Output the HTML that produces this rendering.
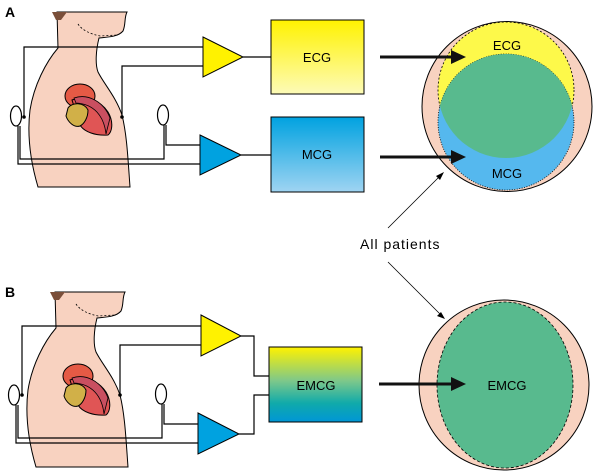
<!DOCTYPE html>
<html><head><meta charset="utf-8"><style>
html,body{margin:0;padding:0;background:#fff;}
svg{display:block;font-family:"Liberation Sans",sans-serif;}
</style></head><body>
<svg width="600" height="476" viewBox="0 0 600 476" xmlns="http://www.w3.org/2000/svg">
<defs>
<linearGradient id="gy" x1="0" y1="0" x2="0" y2="1"><stop offset="0" stop-color="#fff200"/><stop offset="1" stop-color="#fdfbb8"/></linearGradient>
<linearGradient id="gb" x1="0" y1="0" x2="0" y2="1"><stop offset="0" stop-color="#00a2e0"/><stop offset="1" stop-color="#9fd4f2"/></linearGradient>
<linearGradient id="ge" x1="0" y1="0" x2="0" y2="1"><stop offset="0" stop-color="#fff200"/><stop offset="0.45" stop-color="#7ec88a"/><stop offset="0.75" stop-color="#10aaaa"/><stop offset="1" stop-color="#0096d6"/></linearGradient>
<clipPath id="cy"><ellipse cx="506" cy="90" rx="68" ry="68"/></clipPath>
<g id="body">
<path d="M57,12 L58,48 C46,62 34,85 30,110 C27,135 30,160 38,187 L130,187 C128,160 127,135 122,115 C116,97 104,84 98,72 C95,64 96,50 99,38 C108,37 118,37 123,31 C126,24 124,18 127,12 Z" fill="#f8d2c0" stroke="#000" stroke-width="1"/>
<path d="M52,12 L67,12 L61,20 L56,20 Z" fill="#7a4f3a"/>
<path d="M78,24 C82,30 90,34 100,36 L118,35" fill="none" stroke="#000" stroke-width="0.8" stroke-dasharray="2,2"/>
<ellipse cx="80" cy="96" rx="15" ry="12" fill="#e55a45" stroke="#000" stroke-width="1"/>
<path d="M72,100 C85,95 100,100 108,112 C114,122 112,132 108,135 C96,136 84,132 80,125 Z" fill="#e05555" stroke="#000" stroke-width="1"/>
<path d="M74,98 C88,93 104,102 110,118 L106,134 C104,116 94,104 76,103 Z" fill="#c94f60" stroke="#000" stroke-width="0.8"/>
<path d="M68,108 C72,102 84,102 88,110 C88,118 84,124 80,126 C74,128 68,122 66,116 Z" fill="#d1b048" stroke="#000" stroke-width="1"/>
</g>
</defs>

<text x="5" y="17" font-size="14" font-weight="bold">A</text>
<use href="#body"/>
<g fill="none" stroke="#000" stroke-width="1.2">
<path d="M203,47 L24,47 L24,117"/>
<path d="M203,66 L122,66 L122,117"/>
<ellipse cx="16" cy="116" rx="5.5" ry="10" fill="#fff"/>
<ellipse cx="163" cy="115" rx="5.5" ry="10" fill="#fff"/>
<path d="M18,126 L18,164 L200,164"/>
<path d="M20,126 L20,159 L164,159 L164,125"/>
<path d="M166,125 L166,145 L200,145"/>
<path d="M243,57 L271,57"/>
<path d="M241,155 L271,155"/>
</g>
<circle cx="24" cy="117" r="1.8"/><circle cx="122" cy="117" r="1.8"/>
<polygon points="203,37 243,57 203,77" fill="#fff200" stroke="#000" stroke-width="1"/>
<polygon points="200,135 241,155 200,175" fill="#00a2e0" stroke="#000" stroke-width="1"/>
<rect x="271" y="20" width="93" height="74" fill="url(#gy)" stroke="#000" stroke-width="1"/>
<text x="317" y="62" font-size="13" text-anchor="middle">ECG</text>
<rect x="271" y="117" width="93" height="75" fill="url(#gb)" stroke="#000" stroke-width="1"/>
<text x="317" y="159" font-size="13" text-anchor="middle">MCG</text>

<circle cx="507" cy="106.5" r="85" fill="#f8d2c0" stroke="#000" stroke-width="1"/>
<ellipse cx="506" cy="90" rx="68" ry="68" fill="#fdf94a" stroke="#000" stroke-width="0.8" stroke-dasharray="2,2"/>
<ellipse cx="506" cy="122" rx="68" ry="68" fill="#55b8ee" stroke="#000" stroke-width="0.8" stroke-dasharray="1,1.5"/>
<ellipse cx="506" cy="122" rx="68" ry="68" fill="#58ba8e" clip-path="url(#cy)"/>
<text x="507" y="50" font-size="13" text-anchor="middle">ECG</text>
<text x="507" y="178" font-size="13" text-anchor="middle">MCG</text>
<path d="M380,57 L453,57" stroke="#111" stroke-width="3"/>
<polygon points="451,50 466,57 451,64" fill="#111"/>
<path d="M380,157 L453,157" stroke="#111" stroke-width="3"/>
<polygon points="451,150 466,157 451,164" fill="#111"/>

<text x="360" y="249" font-size="14" letter-spacing="1">All patients</text>
<path d="M388,228 L440,176" stroke="#000" stroke-width="0.8"/>
<polygon points="444,172 436,176 440,180" fill="#000"/>
<path d="M388,262 L441,315" stroke="#000" stroke-width="0.8"/>
<polygon points="445,319 437,316 441,312" fill="#000"/>

<text x="5" y="297" font-size="14" font-weight="bold">B</text>
<use href="#body" transform="translate(-2,280)"/>
<g fill="none" stroke="#000" stroke-width="1.2">
<path d="M201,326 L22,326 L22,395"/>
<path d="M201,345 L120,345 L120,395"/>
<ellipse cx="14" cy="395" rx="5.5" ry="10" fill="#fff"/>
<ellipse cx="161" cy="394" rx="5.5" ry="10" fill="#fff"/>
<path d="M16,405 L16,443 L198,443"/>
<path d="M18,405 L18,438 L162,438 L162,404"/>
<path d="M164,404 L164,424 L198,424"/>
<path d="M241,336 L254,336 L254,376 L269,376"/>
<path d="M239,434 L254,434 L254,395 L269,395"/>
</g>
<circle cx="22" cy="395" r="1.8"/><circle cx="120" cy="395" r="1.8"/>
<polygon points="201,315 241,336 201,356" fill="#fff200" stroke="#000" stroke-width="1"/>
<polygon points="198,413 239,434 198,454" fill="#00a2e0" stroke="#000" stroke-width="1"/>
<rect x="269" y="347" width="93" height="75" fill="url(#ge)" stroke="#000" stroke-width="1"/>
<text x="316" y="390" font-size="13" text-anchor="middle">EMCG</text>
<circle cx="504" cy="385" r="85" fill="#f8d2c0" stroke="#000" stroke-width="1"/>
<ellipse cx="505" cy="385" rx="68" ry="83" fill="#58ba8e" stroke="#000" stroke-width="0.8" stroke-dasharray="3,2"/>
<text x="507" y="390" font-size="13" text-anchor="middle">EMCG</text>
<path d="M379,384 L453,384" stroke="#111" stroke-width="3"/>
<polygon points="451,377 466,384 451,391" fill="#111"/>
</svg>
</body></html>
